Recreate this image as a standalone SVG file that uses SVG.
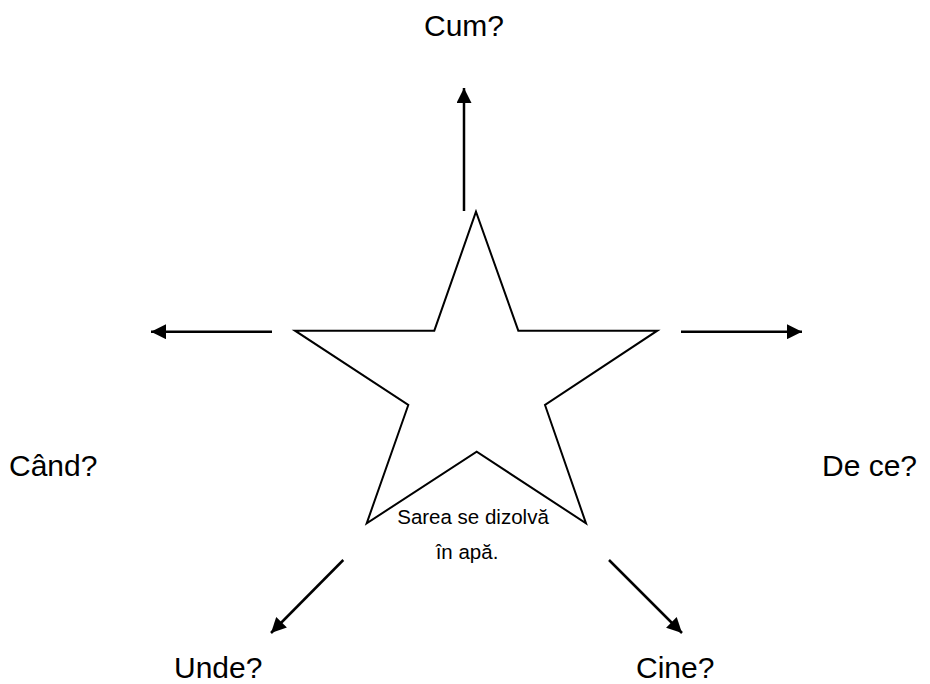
<svg xmlns="http://www.w3.org/2000/svg" width="930" height="684" viewBox="0 0 930 684">
<style>
.lbl{font-family:"Liberation Sans",Arial,sans-serif;font-size:30px;fill:#000}
.small{font-family:"Liberation Sans",Arial,sans-serif;font-size:20.5px;fill:#000}
.arr{stroke:#000;stroke-width:2.5;fill:none;marker-end:url(#ah)}
</style>
<defs>
<marker id="ah" viewBox="0 0 10 10" refX="10" refY="5" markerWidth="6.6" markerHeight="6" markerUnits="strokeWidth" orient="auto">
<path d="M0,0 L10,5 L0,10 Z" fill="#000"/>
</marker>
</defs>
<rect width="930" height="684" fill="#fff"/>
<g id="star">
<polygon points="476,211.7 434.3,330.7 295,330.7 408.3,405 366.7,523.3 476.7,451.7 586,523.3 545,405 657.3,330.7 518.3,330.7" fill="#fff" stroke="#000" stroke-width="2"/>
<text class="small" x="473" y="524" text-anchor="middle">Sarea se dizolvă</text>
<text class="small" x="467" y="559" text-anchor="middle">în apă.</text>
</g>
<g id="connectors">
<line class="arr" x1="464" y1="211" x2="464" y2="88"/>
<line class="arr" x1="272" y1="331.7" x2="151" y2="331.7"/>
<line class="arr" x1="681" y1="331.7" x2="802" y2="331.7"/>
<line class="arr" x1="343.3" y1="560" x2="271" y2="633"/>
<line class="arr" x1="609" y1="560" x2="682" y2="633"/>
</g>
<g id="cum"><text class="lbl" x="464" y="36" text-anchor="middle">Cum?</text></g>
<g id="cand"><text class="lbl" x="9" y="476">Când?</text></g>
<g id="dece"><text class="lbl" x="822" y="476">De ce?</text></g>
<g id="unde"><text class="lbl" x="174" y="678">Unde?</text></g>
<g id="cine"><text class="lbl" x="636" y="678">Cine?</text></g>
</svg>
